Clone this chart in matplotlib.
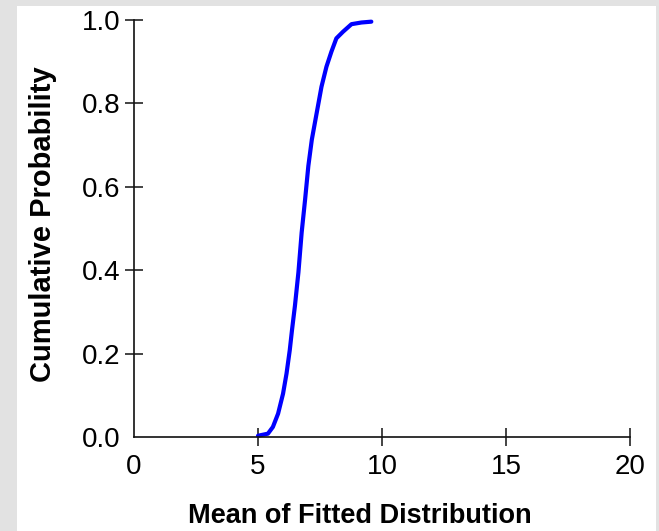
import numpy as np
import matplotlib
matplotlib.use("Agg")
import matplotlib.pyplot as plt
from matplotlib.patches import Rectangle

# curve: mean of fitted distribution vs cumulative probability
mean_vals = [5.0, 5.40, 5.60, 5.81, 6.01, 6.15, 6.28, 6.37, 6.49, 6.63, 6.76,
             6.90, 7.03, 7.17, 7.36, 7.56, 7.76, 7.96, 8.16, 8.43, 8.77, 9.17, 9.57]
cum_prob = [0.003, 0.008, 0.024, 0.056, 0.104, 0.152, 0.208, 0.256, 0.315, 0.395, 0.490,
            0.570, 0.650, 0.713, 0.775, 0.840, 0.888, 0.924, 0.956, 0.972, 0.990, 0.994, 0.996]

x_ticks = [0, 5, 10, 15, 20]
y_ticks = [0.0, 0.2, 0.4, 0.6, 0.8, 1.0]

plt.rcParams['font.family'] = ['Liberation Sans', 'DejaVu Sans']

W, H = 659, 531
fig = plt.figure(figsize=(W / 100, H / 100), dpi=100)
fig.patch.set_facecolor('#e2e2e2')
# white panel behind the chart
fig.patches.append(Rectangle((17 / W, 0), (656 - 17) / W, (H - 6) / H,
                             transform=fig.transFigure, facecolor='white',
                             edgecolor='none', zorder=-5))

ax = fig.add_axes([134 / W, 1 - 437 / H, (630 - 134) / W, (437 - 20) / H])
ax.set_facecolor('none')
ax.set_zorder(2)

ax.plot(mean_vals, cum_prob, color='#0000ff', lw=3.0, solid_capstyle='round',
        solid_joinstyle='round', clip_on=False)

ax.set_xlim(0, 20)
ax.set_ylim(0, 1)
ax.set_xticks(x_ticks)
ax.set_xticklabels([str(v) for v in x_ticks])
ax.set_yticks(y_ticks)
ax.set_yticklabels(['%.1f' % v for v in y_ticks])

for s in ['top', 'right']:
    ax.spines[s].set_visible(False)
for s in ['left', 'bottom']:
    ax.spines[s].set_linewidth(1.2)
    ax.spines[s].set_color('#111111')

ax.tick_params(axis='both', direction='inout', length=13, width=1.1,
               colors='#111111', labelsize=20, labelcolor='black')
ax.tick_params(axis='x', pad=6)
ax.tick_params(axis='y', pad=3)
# no tick marks at the origin
ax.xaxis.get_major_ticks()[0].tick1line.set_visible(False)
ax.yaxis.get_major_ticks()[0].tick1line.set_visible(False)

ax.set_xlabel('Mean of Fitted Distribution', fontsize=19.5, fontweight='bold')
ax.xaxis.label.set_va('center')
ax.xaxis.set_label_coords((360 - 134) / 496, (437 - 516) / 417)

ax.set_ylabel('Cumulative Probability', fontsize=21, fontweight='bold')
ax.yaxis.label.set_va('center')
ax.yaxis.set_label_coords((43 - 134) / 496, (437 - 224) / 417)

fig.savefig('out.png', dpi=100, facecolor=fig.get_facecolor())
